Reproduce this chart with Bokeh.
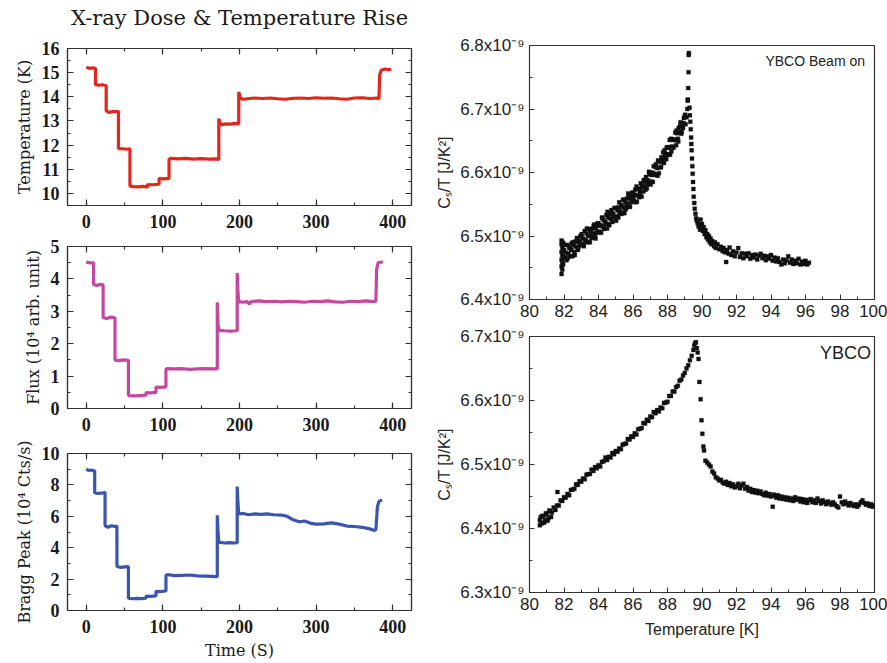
from bokeh.plotting import figure
from bokeh.layouts import row, column
from bokeh.models import (Range1d, LinearAxis, SingleIntervalTicker, FixedTicker, CustomJSTickFormatter,
                          Label, CustomLabelingPolicy)
from bokeh.embed import file_html
from bokeh.resources import INLINE

# ---------------- data: left panels (time in s) ----------------
temp_time = [0, 4, 8, 12, 12, 16, 21, 25, 26, 26, 30, 35, 39, 42, 42, 47, 52, 57,
             57, 62, 68, 74, 80, 80, 86, 95, 95, 100, 108, 108, 110, 120, 130, 140, 150, 160, 170, 173,
             173, 174, 176, 182, 188, 194, 199, 199, 200, 201, 205, 210, 220, 230, 240, 250, 260, 270,
             280, 290, 300, 310, 320, 330, 340, 350, 360, 370, 380, 382, 383, 385, 390, 395, 398]
temp_val = [15.22, 15.18, 15.2, 15.18, 14.5, 14.48, 14.5, 14.47, 14.45, 13.42, 13.35, 13.4, 13.38, 13.4,
            11.85, 11.85, 11.83, 11.85, 10.3, 10.28, 10.27, 10.29, 10.27, 10.37, 10.36, 10.38,
            10.62, 10.6, 10.62, 11.4, 11.45, 11.43, 11.45, 11.42, 11.44, 11.42, 11.43, 11.4,
            13.1, 12.95, 12.85, 12.88, 12.87, 12.9, 12.88, 14.2, 14.1, 13.95, 13.9, 13.92, 13.95, 13.93,
            13.95, 13.92, 13.9, 13.94, 13.95, 13.93, 13.96, 13.94, 13.95, 13.92, 13.9, 13.95, 13.96,
            13.93, 13.95, 13.92, 14.9, 15.1, 15.15, 15.12, 15.15]

flux_time = [0, 3, 6, 9.5, 9.5, 14, 18, 22, 22, 27, 32, 37.5, 37.5, 43, 49, 55, 55, 62, 70, 78,
             78, 84, 91, 91, 97, 104, 104, 106, 115, 125, 135, 145, 155, 165, 171,
             171, 172, 173, 180, 188, 196, 197, 197, 198, 199, 205, 210, 213, 215, 225, 235, 245,
             255, 265, 275, 285, 295, 305, 315, 325, 335, 345, 355, 365, 375, 378, 379, 381, 385, 387]
flux_val = [4.52, 4.5, 4.49, 4.5, 3.82, 3.8, 3.83, 3.82, 2.8, 2.78, 2.82, 2.8, 1.49, 1.48, 1.5, 1.49,
            0.4, 0.39, 0.4, 0.41, 0.49, 0.48, 0.5, 0.66, 0.65, 0.67, 1.22, 1.23, 1.22, 1.23, 1.21,
            1.22, 1.23, 1.22, 1.22, 3.28, 2.6, 2.42, 2.4, 2.39, 2.4, 2.4, 4.18, 3.6, 3.3, 3.28, 3.3,
            3.22, 3.3, 3.32, 3.3, 3.31, 3.29, 3.31, 3.3, 3.28, 3.31, 3.3, 3.32, 3.29, 3.28, 3.31,
            3.3, 3.32, 3.3, 3.31, 4.3, 4.5, 4.52, 4.5]

bragg_time = [0, 3, 6, 9, 11, 11, 15, 19, 23, 24.5, 24.5, 28, 33, 37, 40, 40, 45, 50, 55,
              55, 60, 66, 72, 78, 78, 84, 91, 91, 96, 104, 104, 108, 115, 125, 135, 145, 155, 165, 171,
              171, 172, 173, 180, 187, 194, 197, 197, 198, 199, 205, 212, 220, 228, 236, 245, 255, 262,
              270, 278, 285, 293, 300, 310, 320, 330, 340, 350, 360, 370, 376, 378, 380, 382, 386]
bragg_val = [9.0, 8.92, 8.95, 8.9, 8.92, 7.5, 7.45, 7.48, 7.5, 7.55, 5.4, 5.3, 5.4, 5.35, 5.38,
             2.8, 2.75, 2.78, 2.8, 0.78, 0.75, 0.77, 0.76, 0.78, 0.92, 0.9, 0.93, 1.22, 1.2, 1.24,
             2.25, 2.28, 2.22, 2.24, 2.26, 2.2, 2.19, 2.17, 2.15, 6.06, 5.0, 4.35, 4.3, 4.32, 4.3, 4.32,
             7.9, 6.8, 6.15, 6.18, 6.1, 6.15, 6.12, 6.15, 6.1, 6.08, 6.0, 5.78, 5.65, 5.7, 5.55, 5.5,
             5.52, 5.58, 5.5, 5.38, 5.35, 5.3, 5.2, 5.1, 5.15, 6.6, 6.95, 7.05]

# ---------------- data: right panels (Cs/T in units of 1e-9 J/K^2) ----------------
beam_T = [81.86, 81.86, 81.86, 81.86, 81.86, 81.86, 81.90, 81.90, 81.90, 81.90, 81.90, 81.95, 81.95, 81.95, 81.95,
          82.00, 82.05, 82.10, 82.15, 82.20, 82.25, 82.30, 82.35, 82.40, 82.45, 82.50, 82.55, 82.60, 82.65, 82.70,
          82.75, 82.80, 82.85, 82.90, 82.95, 83.00, 83.05, 83.10, 83.15, 83.20, 83.25, 83.30, 83.35, 83.40, 83.45,
          83.50, 83.55, 83.60, 83.65, 83.70, 83.75, 83.80, 83.85, 83.90, 83.95, 84.00, 84.05, 84.10, 84.15, 84.20,
          84.25, 84.30, 84.35, 84.40, 84.45, 84.50, 84.55, 84.60, 84.65, 84.70, 84.75, 84.80, 84.85, 84.90, 84.95,
          85.00, 85.05, 85.10, 85.15, 85.20, 85.25, 85.30, 85.35, 85.40, 85.45, 85.50, 85.55, 85.60, 85.65, 85.70,
          85.75, 85.80, 85.85, 85.90, 85.95, 86.00, 86.05, 86.10, 86.15, 86.20, 86.25, 86.30, 86.35, 86.40, 86.45,
          86.50, 86.55, 86.60, 86.65, 86.70, 86.75, 86.80, 86.85, 86.90, 86.95, 87.00, 87.05, 87.10, 87.15, 87.20,
          87.25, 87.30, 87.35, 87.40, 87.45, 87.50, 87.55, 87.60, 87.65, 87.70, 87.75, 87.80, 87.85, 87.90, 87.95,
          88.00, 88.05, 88.10, 88.15, 88.20, 88.25, 88.30, 88.35, 88.40, 88.45, 88.50, 88.55, 88.60, 88.65, 88.70,
          88.75, 88.80, 88.85, 88.90, 88.95, 89.00, 89.05, 89.10,
          82.025, 82.125, 82.225, 82.325, 82.425, 82.525, 82.625, 82.725, 82.825, 82.925, 83.025, 83.125, 83.225,
          83.325, 83.425, 83.525, 83.625, 83.725, 83.825, 83.925, 84.025, 84.125, 84.225, 84.325, 84.425, 84.525,
          84.625, 84.725, 84.825, 84.925, 85.025, 85.125, 85.225, 85.325, 85.425, 85.525, 85.625, 85.725, 85.825,
          85.925, 86.025, 86.125, 86.225, 86.325, 86.425, 86.525, 86.625, 86.725, 86.825, 86.925, 87.025, 87.125,
          87.225, 87.325, 87.425, 87.525, 87.625, 87.725, 87.825, 87.925, 88.025, 88.125, 88.225, 88.325, 88.425,
          88.525, 88.625, 88.725, 88.825, 88.925, 89.025,
          89.15, 89.17, 89.18, 89.20, 89.22, 89.23, 89.24, 89.28, 89.30, 89.32, 89.35, 89.37, 89.38, 89.40, 89.42,
          89.44, 89.46, 89.48, 89.50, 89.52, 89.55, 89.58, 89.62, 89.66, 89.70, 89.75, 89.80, 89.85, 89.88, 89.92,
          89.95, 90.00, 90.05, 90.10, 90.15, 90.20, 90.25, 90.30, 90.35, 90.40, 90.45, 90.50, 90.55, 90.60, 90.70,
          90.75, 90.80, 90.90, 91.00, 91.10, 91.20, 91.25, 91.35, 91.40, 91.45, 91.55, 91.60, 91.70, 91.80, 91.90,
          92.00, 92.10, 92.20, 92.30, 92.40, 92.50, 92.60, 92.70, 92.80, 92.90, 93.00, 93.10, 93.20, 93.30, 93.40,
          93.50, 93.60, 93.70, 93.80, 93.90, 94.00, 94.10, 94.20, 94.30, 94.40, 94.50, 94.60, 94.70, 94.80, 94.90,
          95.00, 95.10, 95.20, 95.30, 95.40, 95.50, 95.60, 95.70, 95.80, 95.90, 96.00, 96.10, 96.20]
beam_C = [6.440, 6.452, 6.463, 6.475, 6.487, 6.493, 6.447, 6.458, 6.470, 6.482, 6.490, 6.455, 6.466, 6.478, 6.489,
          6.478, 6.465, 6.474, 6.462, 6.486, 6.472, 6.482, 6.468, 6.478, 6.489, 6.468, 6.485, 6.475, 6.491, 6.483,
          6.497, 6.478, 6.491, 6.485, 6.500, 6.500, 6.487, 6.496, 6.484, 6.508, 6.494, 6.504, 6.490, 6.500, 6.511,
          6.490, 6.507, 6.497, 6.512, 6.504, 6.518, 6.499, 6.512, 6.505, 6.520, 6.520, 6.507, 6.516, 6.505, 6.529,
          6.515, 6.525, 6.511, 6.522, 6.533, 6.512, 6.529, 6.519, 6.535, 6.527, 6.541, 6.522, 6.535, 6.529, 6.544,
          6.544, 6.531, 6.540, 6.529, 6.553, 6.539, 6.549, 6.535, 6.546, 6.557, 6.536, 6.553, 6.543, 6.559, 6.551,
          6.565, 6.546, 6.559, 6.553, 6.568, 6.568, 6.555, 6.565, 6.553, 6.578, 6.564, 6.574, 6.561, 6.571, 6.583,
          6.562, 6.580, 6.570, 6.586, 6.578, 6.593, 6.575, 6.588, 6.582, 6.597, 6.598, 6.586, 6.596, 6.585, 6.610,
          6.597, 6.609, 6.596, 6.607, 6.619, 6.599, 6.617, 6.608, 6.624, 6.617, 6.632, 6.615, 6.629, 6.623, 6.639,
          6.640, 6.628, 6.639, 6.628, 6.653, 6.641, 6.652, 6.639, 6.651, 6.663, 6.643, 6.662, 6.653, 6.670, 6.663,
          6.679, 6.661, 6.675, 6.670, 6.686, 6.688, 6.676, 6.687,
          6.467, 6.486, 6.465, 6.482, 6.478, 6.490, 6.470, 6.492, 6.481, 6.493, 6.503, 6.487, 6.493,
          6.512, 6.491, 6.508, 6.503, 6.516, 6.496, 6.517, 6.506, 6.517, 6.528, 6.512, 6.519, 6.538,
          6.517, 6.535, 6.531, 6.544, 6.524, 6.545, 6.535, 6.546, 6.557, 6.541, 6.547, 6.567, 6.546,
          6.564, 6.560, 6.573, 6.554, 6.575, 6.565, 6.577, 6.588, 6.573, 6.581, 6.601, 6.581, 6.600,
          6.598, 6.613, 6.595, 6.618, 6.609, 6.622, 6.635, 6.621, 6.629, 6.651, 6.633, 6.652, 6.651,
          6.666, 6.649, 6.673, 6.664, 6.678, 6.691,
          6.700, 6.713, 6.715, 6.733, 6.758, 6.785, 6.788, 6.702, 6.690, 6.680, 6.668, 6.655, 6.645, 6.635, 6.622,
          6.610, 6.598, 6.585, 6.574, 6.562, 6.552, 6.543, 6.535, 6.528, 6.524, 6.520, 6.515, 6.518, 6.510, 6.526,
          6.512, 6.519, 6.508, 6.514, 6.503, 6.509, 6.498, 6.503, 6.494, 6.500, 6.490, 6.496, 6.487, 6.492, 6.484,
          6.490, 6.481, 6.487, 6.479, 6.483, 6.476, 6.481, 6.474, 6.459, 6.478, 6.472, 6.482, 6.470, 6.476, 6.468,
          6.474, 6.481, 6.467, 6.473, 6.465, 6.472, 6.468, 6.473, 6.464, 6.470, 6.466, 6.471, 6.463, 6.469, 6.472,
          6.465, 6.469, 6.462, 6.468, 6.464, 6.470, 6.461, 6.466, 6.460, 6.465, 6.459, 6.455, 6.463, 6.457, 6.462,
          6.468, 6.458, 6.463, 6.456, 6.461, 6.457, 6.464, 6.455, 6.460, 6.456, 6.461, 6.455, 6.458]

ybco_T = [80.6, 80.6, 80.65, 80.7, 80.75, 80.8, 80.85, 80.9, 80.95, 81.0, 81.05, 81.1, 81.15, 81.2, 81.25,
          81.3, 81.4, 81.5, 81.6, 81.62, 81.7, 81.8, 81.9, 82.0, 82.1, 82.2, 82.3, 82.4, 82.5, 82.6, 82.7, 82.8,
          82.9, 83.0, 83.1, 83.2, 83.3, 83.4, 83.5, 83.6, 83.7, 83.8, 83.9, 84.0, 84.1, 84.2, 84.3, 84.4, 84.5,
          84.6, 84.7, 84.8, 84.9, 85.0, 85.1, 85.2, 85.3, 85.4, 85.5, 85.6, 85.7, 85.8, 85.9, 86.0, 86.1, 86.2,
          86.3, 86.4, 86.5, 86.6, 86.7, 86.8, 86.9, 87.0, 87.1, 87.2, 87.3, 87.4, 87.5, 87.6, 87.7, 87.8, 87.9,
          88.0, 88.1, 88.2, 88.3, 88.4, 88.5, 88.6, 88.7, 88.8, 88.9, 89.0, 89.1, 89.2, 89.3, 89.4, 89.5, 89.55,
          89.6, 89.65, 89.7, 89.75, 89.8, 89.85, 89.92, 89.97, 90.02, 90.08, 90.12, 90.2, 90.3, 90.4, 90.5, 90.6,
          90.7, 90.8, 90.9, 91.0, 91.1, 91.2, 91.3, 91.4, 91.5, 91.6, 91.7, 91.8, 91.9, 92.0, 92.1, 92.2, 92.3,
          92.4, 92.5, 92.6, 92.7, 92.8, 92.9, 93.0, 93.1, 93.2, 93.3, 93.4, 93.5, 93.6, 93.7, 93.8, 93.9, 94.0,
          94.1, 94.15, 94.2, 94.3, 94.4, 94.5, 94.6, 94.7, 94.8, 94.9, 95.0, 95.1, 95.2, 95.3, 95.4, 95.5, 95.6,
          95.7, 95.8, 95.9, 96.0, 96.1, 96.2, 96.3, 96.4, 96.5, 96.6, 96.7, 96.8, 96.9, 97.0, 97.1, 97.2, 97.3,
          97.4, 97.5, 97.6, 97.7, 97.8, 97.9, 98.0, 98.1, 98.2, 98.3, 98.4, 98.5, 98.6, 98.7, 98.8, 98.9, 99.0,
          99.1, 99.2, 99.3, 99.4, 99.5, 99.6, 99.7, 99.8, 99.9, 100.0]
ybco_C = [6.413, 6.405, 6.418, 6.408, 6.420, 6.419, 6.409, 6.413, 6.424, 6.422, 6.412, 6.416, 6.428, 6.427, 6.418,
          6.425, 6.433, 6.429, 6.436, 6.457, 6.436, 6.444, 6.443, 6.449, 6.448, 6.454, 6.452, 6.460, 6.461, 6.462,
          6.469, 6.468, 6.474, 6.473, 6.478, 6.477, 6.484, 6.485, 6.485, 6.492, 6.490, 6.496, 6.494, 6.499, 6.497,
          6.504, 6.505, 6.511, 6.507, 6.512, 6.511, 6.518, 6.516, 6.521, 6.520, 6.525, 6.524, 6.531, 6.532, 6.533,
          6.540, 6.539, 6.544, 6.543, 6.549, 6.547, 6.555, 6.556, 6.557, 6.565, 6.564, 6.570, 6.568, 6.575, 6.574,
          6.582, 6.580, 6.585, 6.583, 6.589, 6.588, 6.596, 6.597, 6.598, 6.607, 6.607, 6.614, 6.614, 6.621, 6.623,
          6.631, 6.633, 6.639, 6.643, 6.650, 6.655, 6.663, 6.670, 6.679, 6.686, 6.690, 6.691, 6.682, 6.675, 6.665,
          6.629, 6.602, 6.569, 6.548, 6.528, 6.522, 6.506, 6.503, 6.500, 6.497, 6.489, 6.486, 6.480, 6.478, 6.475,
          6.476, 6.472, 6.470, 6.473, 6.468, 6.471, 6.466, 6.469, 6.464, 6.466, 6.470, 6.463, 6.467, 6.470, 6.462,
          6.465, 6.459, 6.462, 6.457, 6.460, 6.456, 6.459, 6.455, 6.458, 6.454, 6.452, 6.456, 6.451, 6.454, 6.450,
          6.434, 6.453, 6.451, 6.448, 6.452, 6.447, 6.450, 6.446, 6.449, 6.445, 6.448, 6.444, 6.447, 6.443, 6.449,
          6.445, 6.447, 6.442, 6.446, 6.441, 6.445, 6.440, 6.444, 6.446, 6.441, 6.444, 6.440, 6.447, 6.443, 6.439,
          6.444, 6.441, 6.438, 6.442, 6.440, 6.437, 6.441, 6.438, 6.435, 6.433, 6.450, 6.441, 6.438, 6.442, 6.439,
          6.436, 6.440, 6.437, 6.435, 6.438, 6.434, 6.437, 6.441, 6.444, 6.440, 6.437, 6.439, 6.435, 6.438, 6.434,
          6.436]

# tick positions
beam_y_ticks = [6.4, 6.5, 6.6, 6.7, 6.8]
ybco_y_ticks = [6.3, 6.4, 6.5, 6.6, 6.7]
T_ticks = [80, 82, 84, 86, 88, 90, 92, 94, 96, 98, 100]

SERIF = "DejaVu Serif"
TICKSERIF = "Liberation Serif"
SANS = "Liberation Sans"
INK = "#333333"

HIDE_LABELS = CustomLabelingPolicy(code="""
try { for (let i = 0; i < indices.size; i++) { indices.unset(i) } } catch (e) {}
return indices
""")


def left_axis_style(ax, ticker, labels=True):
    ax.ticker = ticker
    ax.major_tick_in = 6
    ax.major_tick_out = 0
    ax.minor_tick_in = 3
    ax.minor_tick_out = 0
    ax.axis_line_color = INK
    ax.axis_line_width = 1.2
    ax.major_tick_line_color = INK
    ax.minor_tick_line_color = INK
    ax.major_tick_line_width = 1.2
    ax.minor_tick_line_width = 1.2
    ax.major_label_text_font = TICKSERIF
    ax.major_label_text_font_size = "18px"
    ax.major_label_text_font_style = "bold"
    ax.major_label_text_color = "#1a1a1a"
    ax.axis_label_text_font = SERIF
    ax.axis_label_text_font_size = "16px"
    ax.axis_label_text_font_style = "normal"
    ax.axis_label_text_color = "#1a1a1a"
    if not labels:
        ax.major_label_standoff = 0
        ax.major_label_policy = HIDE_LABELS


def left_panel(height, mb_top, mb_bottom, x, y, color, y_interval, ylo, yhi, ylabel, xlabel=None):
    p = figure(width=432, height=height, output_backend="svg", toolbar_location=None,
               x_range=Range1d(-24.5, 424.5), y_range=Range1d(ylo, yhi),
               min_border_left=67, min_border_right=17, min_border_top=mb_top, min_border_bottom=mb_bottom,
               x_axis_type=None, y_axis_type=None)
    p.grid.visible = False
    p.outline_line_color = INK
    p.outline_line_width = 1.2
    p.line(x, y, line_color=color, line_width=3.2)
    xb = LinearAxis()
    left_axis_style(xb, SingleIntervalTicker(interval=100, num_minor_ticks=2))
    xb.major_label_standoff = 9
    if xlabel:
        xb.axis_label = xlabel
        xb.axis_label_standoff = 5
    p.add_layout(xb, "below")
    yl = LinearAxis(axis_label=ylabel)
    left_axis_style(yl, SingleIntervalTicker(interval=y_interval, num_minor_ticks=2))
    yl.major_label_standoff = 8
    yl.axis_label_standoff = 5
    p.add_layout(yl, "left")
    xt = LinearAxis()
    left_axis_style(xt, SingleIntervalTicker(interval=100, num_minor_ticks=2), labels=False)
    p.add_layout(xt, "above")
    yr = LinearAxis()
    left_axis_style(yr, SingleIntervalTicker(interval=y_interval, num_minor_ticks=2), labels=False)
    p.add_layout(yr, "right")
    return p


L1 = left_panel(230, 43, 25, temp_time, temp_val, "#e3261d", 1, 9.5, 16, "Temperature (K)")
L1.title.text = "X-ray Dose & Temperature Rise"
L1.title.align = "center"
L1.title.text_font = SERIF
L1.title.text_font_size = "21px"
L1.title.text_font_style = "normal"
L1.title.text_color = "#1a1a1a"
L1.title.standoff = 6
L2 = left_panel(207, 13, 29, flux_time, flux_val, "#c6479e", 1, 0, 5, "Flux (10⁴ arb. unit)")
L3 = left_panel(225, 10, 52, bragg_time, bragg_val, "#3a55ae", 2, 0, 10, "Bragg Peak (10⁴ Cts/s)", "Time (S)")

fmt_code = "return tick.toFixed(1) + 'x10\u207b\u2079';"


def right_panel(height, mb_top, mb_bottom, ylo, yhi, yticks, tx, cy, tag, tag_x, tag_y, tag_size, xlabel=None):
    p = figure(width=455, height=height, output_backend="svg", toolbar_location=None,
               x_range=Range1d(80, 100), y_range=Range1d(ylo, yhi),
               min_border_left=97, min_border_right=13, min_border_top=mb_top, min_border_bottom=mb_bottom,
               x_axis_type=None, y_axis_type=None)
    p.grid.visible = False
    p.outline_line_color = INK
    p.outline_line_width = 1.2
    p.scatter(tx, cy, marker="square", size=4, fill_color="#111111", line_color="#111111", line_width=0.3)
    minor_y = [round(v + 0.05, 2) for v in yticks[:-1]]
    minor_x = [v + 1 for v in T_ticks[:-1]]
    for loc in ("below", "left"):
        ax = LinearAxis()
        if loc == "below":
            ax.ticker = FixedTicker(ticks=T_ticks, minor_ticks=minor_x)
            ax.major_label_standoff = 5
            if xlabel:
                ax.axis_label = xlabel
                ax.axis_label_standoff = 8
        else:
            ax.ticker = FixedTicker(ticks=yticks, minor_ticks=minor_y)
            ax.formatter = CustomJSTickFormatter(code=fmt_code)
            ax.major_label_standoff = 5
            ax.axis_label = "Cₛ/T [J/K²]"
            ax.axis_label_standoff = 4
        ax.major_tick_in = 5
        ax.major_tick_out = 0
        ax.minor_tick_in = 3
        ax.minor_tick_out = 0
        ax.axis_line_color = INK
        ax.major_tick_line_color = INK
        ax.minor_tick_line_color = INK
        ax.major_label_text_font = SANS
        ax.major_label_text_font_size = "17px"
        ax.major_label_text_color = "#222222"
        ax.axis_label_text_font = SANS
        ax.axis_label_text_font_size = "16px"
        ax.axis_label_text_font_style = "normal"
        ax.axis_label_text_color = "#222222"
        p.add_layout(ax, loc)
    p.add_layout(Label(x=tag_x, y=tag_y, text=tag, text_align="right", text_baseline="middle",
                       text_font=SANS, text_font_size=tag_size, text_color="#222222"))
    return p


R1 = right_panel(325, 45, 26, 6.4, 6.8, beam_y_ticks, beam_T, beam_C, "YBCO Beam on", 99.45, 6.775, "14px")
R2 = right_panel(337, 11, 70, 6.3, 6.7, ybco_y_ticks, ybco_T, ybco_C, "YBCO", 99.8, 6.675, "18px",
                 "Temperature [K]")

layout = row(column(L1, L2, L3, spacing=0), column(R1, R2, spacing=0), spacing=0)

open("out.html", "w", encoding="utf-8").write(file_html(layout, INLINE))
